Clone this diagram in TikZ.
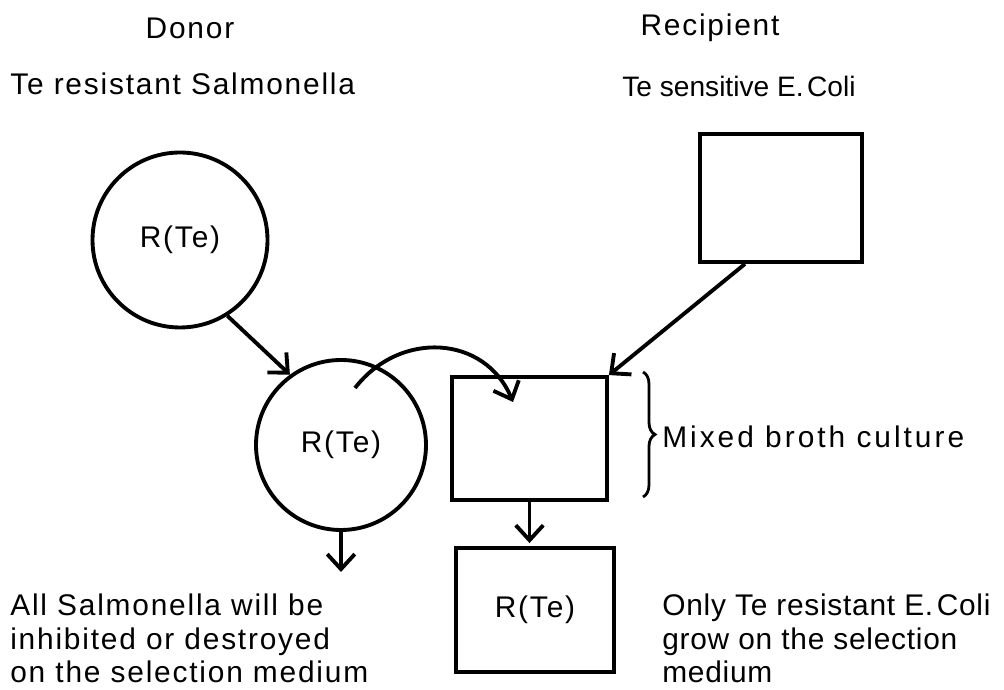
\documentclass[tikz,border=0pt]{standalone}
\usepackage{fontspec}
\setmainfont[LetterSpace=6]{Liberation Sans}
\usetikzlibrary{positioning,calc,arrows.meta,decorations.pathreplacing}

\begin{document}
\begin{tikzpicture}[
    txt/.style={inner sep=0pt, font=\fontsize{17}{18.8}\selectfont},
    cell/.style={circle, draw, line width=2.2pt, minimum size=3.5cm, inner sep=0pt, font=\fontsize{17}{18.8}\selectfont},
    tube/.style={rectangle, draw, line width=2.2pt, inner sep=0pt, font=\fontsize{17}{18.8}\selectfont},
    note/.style={txt, align=left, anchor=north west},
    arrow/.style={-{Straight Barb[length=3mm,width=5.5mm]}, line width=2.2pt}
]
\useasboundingbox (0,0) rectangle (20.08,13.8);

% headings
\node[txt] (donor) at (3.8,13.24) {Donor};
\node[txt, anchor=west] (donortype) at (0.2,12.12) {Te resistant Salmonella};
\node[txt] (recip) at (14.2,13.24) {Recipient};
\node[txt, font=\fontsize{16}{18}\selectfont\addfontfeatures{LetterSpace=0}] (reciptype) at (14.78,12.08) {Te sensitive E.\kern2pt Coli};

% cultures
\node[cell] (donorcell) at (3.6,9.0) {R(Te)};
\node[tube, minimum width=3.24cm, minimum height=2.56cm] (recipcell) at (15.62,9.84) {};
\node[cell, minimum size=3.4cm] (mixcell) at (6.82,4.9) {R(Te)};
\node[tube, minimum width=3.1cm, minimum height=2.46cm] (broth) at (10.59,5.03) {};
\node[tube, minimum width=3.16cm, minimum height=2.48cm] (select) at (10.7,1.6) {R(Te)};

% arrows
\draw[arrow] (donorcell.-58) -- (mixcell.126);
\draw[arrow] ([xshift=-0.72cm]recipcell.south) -- (broth.north east);
\coordinate (loopstart) at ($(mixcell.center)+(0.28,1.14)$);
\coordinate (loopend) at (10.26,5.76);
\draw[arrow] (loopstart) .. controls (8.0,7.2) and (9.7,7.1) .. (loopend);
\coordinate (dieoff) at (6.82,2.36);
\draw[arrow] (mixcell.south) -- (dieoff);
\draw[arrow] (broth.south) -- ([yshift=0.06cm]broth.south |- select.north);

% brace
\coordinate (bracetop) at (12.86,6.36);
\coordinate (bracebot) at (12.86,3.86);
\draw[line width=1.6pt, decorate, decoration={brace, amplitude=0.24cm}] (bracetop) -- (bracebot);
\node[txt, anchor=west, font=\fontsize{17}{18.8}\selectfont\addfontfeatures{LetterSpace=10}] (mixed) at (13.24,5.06) {Mixed broth culture};

% outcomes
\node[note] (lefttext) at (0.2,1.92) {All Salmonella will be\\inhibited or destroyed\\on the selection medium};
\node[note, font=\fontsize{17}{18.8}\selectfont\addfontfeatures{LetterSpace=2.5}] (righttext) at (13.24,1.92) {Only Te resistant E.\kern2pt Coli\\grow on the selection\\medium};
\end{tikzpicture}
\end{document}
